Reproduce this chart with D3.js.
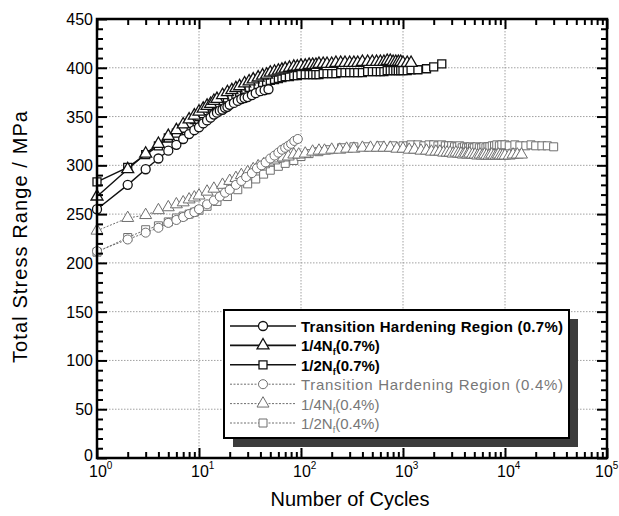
<!DOCTYPE html>
<html>
<head>
<meta charset="utf-8">
<script src="https://cdn.jsdelivr.net/npm/d3@7"></script>
<style>
  body { margin: 0; background: #fff; }
  svg { display: block; font-family: "Liberation Sans", Arial, sans-serif; }
</style>
</head>
<body>
<div id="wrapper"></div>
<script>
// data
const thr07N = [1,2,3,4,5,6,7,8,9,10,11,12,13,14,15,16,17,18,19,20,22,24,26,28,30,33,36,40,44,48]
const thr07S = [255,280,296,307,315,321,327,332,336,339,343,346,349,352,354,356,357,359,360,362,364,366,368,369,370,372,374,376,377,378]

const q07N = [1,2,3,4,5,6,7,8,9,10,11,12,13,14,15,17,19,21,23,25,28,31,34,38,42,46,50,55,60,65,70,77,85,92,100,110,120,130,140,150,165,180,200,220,245,270,300,330,360,400,450,500,550,600,650,700,750,800,850,900,950,1000,1100,1200]
const q07S = [268,296,312,322,330,336,342,347,351,355,358,361,363,366,368,372,375,377,379,381,384,386,388,390,392,393,395,396,397,398,399,400,401,401,402,402,403,403,403,404,404,404,404,405,405,405,405,405,405,406,406,406,406,406,406,407,407,406,406,406,406,405,405,405]

const h07N = [1,2,3,4,5,6,7,8,9,10,11,12,13,14,15,17,19,21,23,25,28,31,34,38,42,46,50,55,60,65,70,77,85,92,100,110,120,130,140,150,165,180,200,220,245,270,300,330,360,400,450,500,550,600,650,700,750,800,850,900,950,1000,1100,1200,1400,1700,2000,2400]
const h07S = [283,298,311,320,328,333,338,343,347,350,353,356,358,360,362,366,369,371,373,375,378,380,381,383,385,386,387,388,389,390,391,391,392,392,393,393,393,393,393,393,394,394,394,394,395,395,395,395,395,395,396,396,396,396,396,397,397,397,397,397,397,397,397,398,398,399,401,404]

const thr04N = [1,2,3,4,5,6,7,8,9,10,12,14,16,18,20,23,26,29,33,37,41,45,50,55,60,65,70,75,80,86,93]
const thr04S = [212,224,231,236,241,244,247,250,252,255,260,264,268,272,275,280,284,288,292,297,300,303,307,310,313,316,318,320,322,325,327]

const q04N = [1,2,3,4,5,6,7,8,9,10,12,14,17,20,23,26,30,34,38,43,48,54,60,67,75,85,95,110,130,150,170,200,240,280,330,400,480,560,650,750,870,1000,1150,1300,1500,1700,1900,2100,2300,2500,2700,2900,3100,3300,3500,3700,3900,4100,4300,4500,4800,5100,5400,5700,6000,6300,6600,7000,7400,7800,8200,8600,9000,9500,10000,11000,12000,13200,14500]
const q04S = [233,246,249,254,257,260,262,265,267,269,273,276,280,284,287,290,293,296,299,301,303,305,307,308,309,311,311,312,314,315,315,316,316,317,317,318,318,318,318,318,317,317,316,316,315,315,314,314,314,313,313,313,312,313,312,312,311,312,311,312,311,311,310,311,310,311,310,310,311,310,310,311,310,310,310,310,311,311,311]

const h04N = [1,2,3,4,5,6,7,8,9,10,12,15,19,24,30,36,43,50,60,70,85,100,120,150,190,250,330,440,600,800,1000,1200,1400,1600,1800,2000,2200,2400,2600,2800,3000,3200,3400,3600,3800,4000,4200,4400,4600,4800,5000,5300,5600,5900,6200,6500,6800,7100,7500,7900,8300,8800,9300,10000,11000,12500,14000,16000,18000,20000,23000,26000,30000]
const h04S = [211,226,234,238,242,246,248,250,252,254,258,263,268,275,281,286,291,295,299,302,305,309,312,314,316,318,319,319,320,320,320,321,321,320,321,321,320,321,320,320,320,319,319,320,318,319,318,318,319,318,318,319,318,318,319,318,319,319,320,320,321,320,321,321,320,321,320,320,321,320,320,320,319]

const series = [
  {name: "Transition Hardening Region (0.7%)", n: thr07N, s: thr07S, shape: "circle", dark: true},
  {name: ["1/4N", "f", "(0.7%)"], n: q07N, s: q07S, shape: "triangle", dark: true},
  {name: ["1/2N", "f", "(0.7%)"], n: h07N, s: h07S, shape: "square", dark: true},
  {name: "Transition Hardening Region (0.4%)", n: thr04N, s: thr04S, shape: "circle", dark: false},
  {name: ["1/4N", "f", "(0.4%)"], n: q04N, s: q04S, shape: "triangle", dark: false},
  {name: ["1/2N", "f", "(0.4%)"], n: h04N, s: h04S, shape: "square", dark: false}
]

const yTicks = d3.range(0, 451, 50)
const decades = [1, 10, 100, 1000, 10000, 100000]

// dimensions
const width = 619
const height = 516
const plot = {left: 97, right: 607, top: 19, bottom: 458}

const svg = d3.select("#wrapper")
  .append("svg")
    .attr("width", width)
    .attr("height", height)

const x = d3.scaleLog()
  .domain([1, 1e5])
  .range([plot.left, plot.right])
const y = d3.scaleLinear()
  .domain([0, 450])
  .range([plot.bottom, plot.top])

// grid
const grid = svg.append("g")
  .attr("stroke", "#8a8a8a")
  .attr("stroke-width", 0.8)
  .attr("stroke-dasharray", "1.5,1.5")
grid.selectAll(".gy")
  .data(yTicks.slice(1, -1))
  .enter().append("line")
    .attr("x1", plot.left).attr("x2", plot.right)
    .attr("y1", d => y(d)).attr("y2", d => y(d))
grid.selectAll(".gx")
  .data(decades.slice(1, -1))
  .enter().append("line")
    .attr("y1", plot.top).attr("y2", plot.bottom)
    .attr("x1", d => x(d)).attr("x2", d => x(d))

// markers
const symbols = {
  circle: d3.symbol().type(d3.symbolCircle).size(64),
  triangle: d3.symbol().type(d3.symbolTriangle).size(62),
  square: d3.symbol().type(d3.symbolSquare).size(64)
}
const colorOf = d => d.dark ? "#111" : "#6f6f6f"

// draw data (light series first)
const line = d3.line()
  .x(d => x(d[0]))
  .y(d => y(d[1]))

const drawOrder = [...series].reverse()
drawOrder.forEach(sr => {
  const pts = sr.n.map((v, i) => [v, sr.s[i]])
  const g = svg.append("g")
  g.append("path")
    .datum(pts)
    .attr("d", line)
    .attr("fill", "none")
    .attr("stroke", colorOf(sr))
    .attr("stroke-width", sr.dark ? 1.4 : 1)
    .attr("stroke-dasharray", sr.dark ? null : "2,1.5")
  g.selectAll("path.m")
    .data(pts)
    .enter().append("path")
      .attr("class", "m")
      .attr("transform", d => `translate(${x(d[0])},${y(d[1])})`)
      .attr("d", symbols[sr.shape])
      .attr("fill", "#fff")
      .attr("stroke", colorOf(sr))
      .attr("stroke-width", sr.dark ? 1.3 : 1)
})

// axes
const minorY = d3.range(0, 451, 10).filter(v => v % 50 !== 0)
const minorX = []
decades.slice(0, -1).forEach(dec => {
  for (let k = 2; k <= 9; k++) minorX.push(dec * k)
})

const axisG = svg.append("g")
function addAxis(gen, tx, ty) {
  axisG.append("g")
    .attr("transform", `translate(${tx},${ty})`)
    .call(gen)
    .call(g => g.select(".domain").remove())
    .call(g => g.selectAll("line").attr("stroke", "#000").attr("stroke-width", 2))
    .call(g => g.selectAll("text").remove())
}
addAxis(d3.axisLeft(y).tickValues(yTicks).tickSize(-10).tickSizeOuter(0), plot.left, 0)
addAxis(d3.axisLeft(y).tickValues(minorY).tickSize(-6).tickSizeOuter(0), plot.left, 0)
addAxis(d3.axisRight(y).tickValues(yTicks).tickSize(-10).tickSizeOuter(0), plot.right, 0)
addAxis(d3.axisRight(y).tickValues(minorY).tickSize(-6).tickSizeOuter(0), plot.right, 0)
addAxis(d3.axisBottom(x).tickValues(decades).tickSize(-10).tickSizeOuter(0), 0, plot.bottom)
addAxis(d3.axisBottom(x).tickValues(minorX).tickSize(-6).tickSizeOuter(0), 0, plot.bottom)
addAxis(d3.axisTop(x).tickValues(decades).tickSize(-10).tickSizeOuter(0), 0, plot.top)
addAxis(d3.axisTop(x).tickValues(minorX).tickSize(-6).tickSizeOuter(0), 0, plot.top)

svg.append("rect")
  .attr("x", plot.left).attr("y", plot.top)
  .attr("width", plot.right - plot.left)
  .attr("height", plot.bottom - plot.top)
  .attr("fill", "none")
  .attr("stroke", "#000")
  .attr("stroke-width", 2.5)

// tick labels
svg.append("g").selectAll("text")
  .data(yTicks)
  .enter().append("text")
    .attr("x", plot.left - 4)
    .attr("y", d => d === 0 ? y(d) + 3 : y(d) + 6)
    .attr("text-anchor", "end")
    .attr("font-size", 16)
    .text(d => d)

const xl = svg.append("g").selectAll("text")
  .data(decades)
  .enter().append("text")
    .attr("x", (d, i) => x(d) - (i === decades.length - 1 ? 12 : 8))
    .attr("y", 477)
    .attr("font-size", 16)
xl.append("tspan").text("10")
xl.append("tspan")
  .attr("dy", -8)
  .attr("font-size", 10)
  .text((d, i) => i)

// axis titles
svg.append("text")
  .attr("transform", "translate(27,237) rotate(-90)")
  .attr("text-anchor", "middle")
  .attr("font-size", 20)
  .attr("textLength", 252)
  .text("Total Stress Range / MPa")
svg.append("text")
  .attr("x", 350)
  .attr("y", 506)
  .attr("text-anchor", "middle")
  .attr("font-size", 20)
  .text("Number of Cycles")

// legend
const legend = {x: 224, y: 310, w: 345, h: 128}
svg.append("rect")
  .attr("x", legend.x + 9).attr("y", legend.y + 9)
  .attr("width", legend.w).attr("height", legend.h)
  .attr("fill", "#3c3c3c")
svg.append("rect")
  .attr("x", legend.x).attr("y", legend.y)
  .attr("width", legend.w).attr("height", legend.h)
  .attr("fill", "#fff")
  .attr("stroke", "#000")
  .attr("stroke-width", 2)

const rows = svg.append("g").selectAll("g")
  .data(series)
  .enter().append("g")
    .attr("transform", (d, i) => `translate(0,${326 + i * 19.4})`)
rows.append("line")
  .attr("x1", 230).attr("x2", 296)
  .attr("stroke", colorOf)
  .attr("stroke-width", d => d.dark ? 1.6 : 1)
  .attr("stroke-dasharray", d => d.dark ? null : "2,1.5")
rows.append("path")
  .attr("transform", "translate(263,0)")
  .attr("d", d => symbols[d.shape]())
  .attr("fill", "#fff")
  .attr("stroke", colorOf)
  .attr("stroke-width", d => d.dark ? 1.3 : 1)
const lt = rows.append("text")
  .attr("x", 301)
  .attr("y", 6)
  .attr("font-size", 15)
  .attr("font-weight", d => d.dark ? "bold" : "normal")
  .attr("fill", d => d.dark ? "#000" : "#777")
lt.filter(d => typeof d.name === "string")
  .attr("textLength", 262)
  .text(d => d.name)
lt.filter(d => typeof d.name !== "string")
  .each(function(d) {
    const t = d3.select(this)
    t.append("tspan").text(d.name[0])
    t.append("tspan").attr("dy", 4).attr("font-size", 9).text(d.name[1])
    t.append("tspan").attr("dy", -4).text(d.name[2])
  })
</script>
</body>
</html>
